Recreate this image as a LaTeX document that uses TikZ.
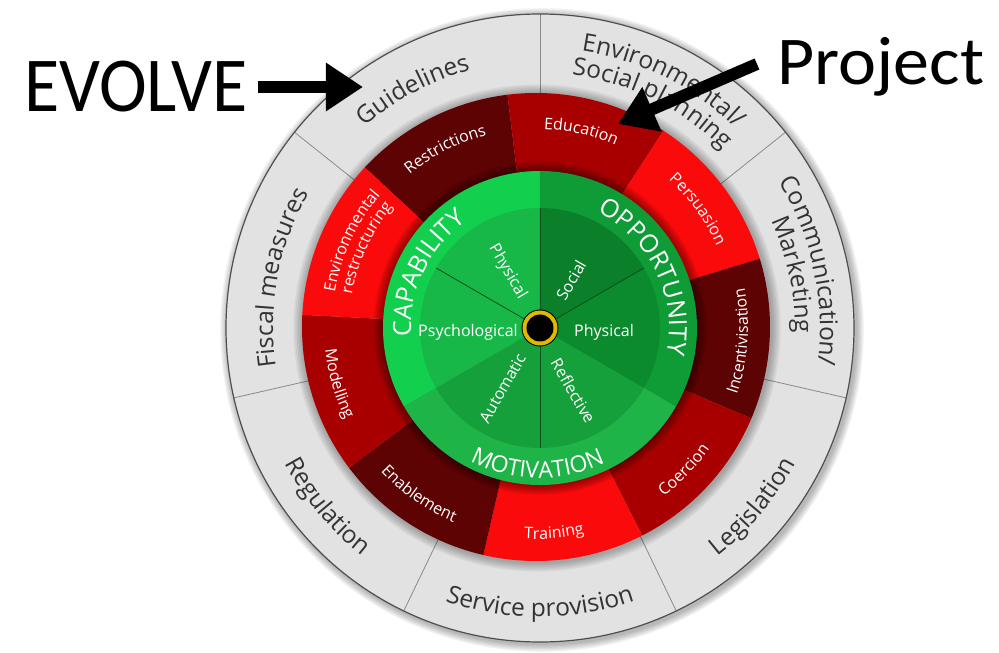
\documentclass[tikz,border=0pt]{standalone}
\usepackage{fontspec}
\usetikzlibrary{decorations.text,arrows.meta}
\newfontfamily\wheelfont{Open Sans}
\newfontfamily\notefont{Carlito}
\definecolor{ringgray}{HTML}{E2E2E2}
\definecolor{ringedge}{HTML}{4E4E4E}
\definecolor{divgray}{HTML}{8A8A8A}
\definecolor{gtext}{HTML}{333333}
\definecolor{rmaroon}{HTML}{5E0303}
\definecolor{rdark}{HTML}{A80000}
\definecolor{rbright}{HTML}{FA0A0A}
\definecolor{capout}{HTML}{12CF4E}
\definecolor{capin}{HTML}{17B848}
\definecolor{oppout}{HTML}{0F9B36}
\definecolor{oppin}{HTML}{0C8A2E}
\definecolor{motout}{HTML}{1EB447}
\definecolor{motin}{HTML}{16A03C}
\definecolor{gline}{HTML}{0A4F1A}
\definecolor{yring}{HTML}{E0B800}
\definecolor{ydark}{HTML}{5A4A00}
\newcommand\annsec[5]{\fill[#1] (#4:#2) arc[start angle=#4,end angle=#5,radius=#2] -- (#5:#3) arc[start angle=#5,end angle=#4,radius=#3] -- cycle;}
\newcommand\arctext[5]{\path[decorate,decoration={text along path,text align=center,text={|#4|#5}}] (#2:#1) arc[start angle=#2,end angle=#3,radius=#1];}
\newcommand\graytxt{\wheelfont\fontsize{24.5}{29}\selectfont\color{gtext}}
\newcommand\redtxt{\wheelfont\fontsize{16}{19}\selectfont\color{white}}
\newcommand\greentxt{\wheelfont\fontsize{25}{30}\selectfont\color{white}}
\newcommand\greentxtb{\wheelfont\fontsize{23}{28}\selectfont\color{white}}
\tikzset{
  inlab/.style={font=\wheelfont\fontsize{16}{19}\selectfont, text=white, inner sep=0pt},
  notelab/.style={font=\notefont\fontsize{72}{80}\selectfont, text=black, inner sep=0pt},
  bigarrow/.style={line width=12pt, -{Triangle[length=37pt,width=46pt]}},
  graydiv/.style={divgray, line width=0.8pt},
  greendiv/.style={gline, line width=0.8pt}
}
\begin{document}
\begin{tikzpicture}
\useasboundingbox (-540pt,-325pt) rectangle (459pt,328pt);
\fill[white] (-540pt,-325pt) rectangle (459pt,328pt);
% outer shadow
\foreach \k in {1,...,6}{\fill[black,opacity=0.05] (2pt,-2pt) circle (314pt+\k*1.3pt);}
% gray ring
\fill[ringgray] (0pt,0pt) circle (314pt);
\foreach \a in {90,38.57,-12.86,-64.29,-115.71,-167.14,141.43}{\draw[graydiv] (\a:230pt) -- (\a:314pt);}
\draw[ringedge, line width=1.2pt] (0pt,0pt) circle (314pt);
% shadow of red ring on gray
\foreach \k in {1,...,6}{\fill[black,opacity=0.05] (-3pt,0pt) circle (234pt+\k*1.6pt);}
% gray texts
\arctext{267pt}{148}{88}{\graytxt}{Guidelines}
\arctext{267pt}{199}{139}{\graytxt}{Fiscal measures}
\arctext{280pt}{93.5}{33.5}{\graytxt}{Environmental/}
\arctext{255pt}{93.5}{33.5}{\graytxt}{Social planning}
\arctext{280pt}{42}{-18}{\graytxt}{Communication/}
\arctext{255pt}{42}{-18}{\graytxt}{Marketing}
\arctext{289pt}{-70}{-10}{\graytxt}{Legislation}
\arctext{289pt}{-120}{-60}{\graytxt}{Service provision}
\arctext{289pt}{-170}{-110}{\graytxt}{Regulation}
% red ring
\begin{scope}[shift={(-4pt,1pt)}]
\annsec{rmaroon}{150pt}{234pt}{97}{137}
\annsec{rdark}{150pt}{234pt}{57}{97}
\annsec{rbright}{150pt}{234pt}{17}{57}
\annsec{rmaroon}{150pt}{234pt}{-23}{17}
\annsec{rdark}{150pt}{234pt}{-63}{-23}
\annsec{rbright}{150pt}{234pt}{-103}{-63}
\annsec{rmaroon}{150pt}{234pt}{-143}{-103}
\annsec{rdark}{150pt}{234pt}{-183}{-143}
\annsec{rbright}{150pt}{234pt}{137}{177}
\arctext{198pt}{142}{92}{\redtxt}{Restrictions}
\arctext{198pt}{102}{52}{\redtxt}{Education}
\arctext{198pt}{61}{11}{\redtxt}{Persuasion}
\arctext{204pt}{180}{130}{\redtxt}{Environmental}
\arctext{187pt}{180}{130}{\redtxt}{restructuring}
\arctext{212pt}{-29}{21}{\redtxt}{Incentivisation}
\arctext{212pt}{-69}{-19}{\redtxt}{Coercion}
\arctext{212pt}{-110}{-60}{\redtxt}{Training}
\arctext{212pt}{-150}{-100}{\redtxt}{Enablement}
\arctext{212pt}{171}{221}{\redtxt}{Modelling}
\end{scope}
% shadow of green on red
\foreach \k in {1,...,6}{\fill[black,opacity=0.07] (0pt,0pt) circle (157pt+\k*1.6pt);}
% green outer ring
\fill[capout] (0pt,0pt) -- (90:157pt) arc[start angle=90,end angle=210,radius=157pt] -- cycle;
\fill[oppout] (0pt,0pt) -- (-30:157pt) arc[start angle=-30,end angle=90,radius=157pt] -- cycle;
\fill[motout] (0pt,0pt) -- (210:157pt) arc[start angle=210,end angle=330,radius=157pt] -- cycle;
% green inner segments
\fill[capin] (0pt,0pt) -- (90:120pt) arc[start angle=90,end angle=210,radius=120pt] -- cycle;
\fill[oppin] (0pt,0pt) -- (-30:120pt) arc[start angle=-30,end angle=30,radius=120pt] -- cycle;
\fill[oppin!92!black] (0pt,0pt) -- (30:120pt) arc[start angle=30,end angle=90,radius=120pt] -- cycle;
\fill[motin] (0pt,0pt) -- (210:120pt) arc[start angle=210,end angle=330,radius=120pt] -- cycle;
\foreach \a in {90,150,30,270}{\draw[greendiv] (0pt,0pt) -- (\a:120pt);}
% green ring texts
\arctext{129pt}{194}{114}{\greentxt}{CAPABILITY}
\arctext{129pt}{71}{-19}{\greentxt}{OPPORTUNITY}
\arctext{150pt}{-131}{-51}{\greentxtb}{MOTIVATION}
% inner labels
\node[inlab] (psy) at (-72pt,-4pt) {Psychological};
\node[inlab] (phopp) at (64pt,-4pt) {Physical};
\node[inlab, rotate=-60] (phcap) at (120:65pt) {Physical};
\node[inlab, rotate=60] (soc) at (57:57pt) {Social};
\node[inlab, rotate=60] (aut) at (238:71pt) {Automatic};
\node[inlab, rotate=-60] (refl) at (298:71pt) {Reflective};
% centre
\fill[black] (0pt,0pt) circle (18.5pt);
\fill[yring] (0pt,0pt) circle (17.5pt);
\fill[black] (0pt,0pt) circle (13.5pt);
% annotations
\node[notelab, anchor=base] (evolve) at (-404pt,216pt) {\scalebox{1}[1.08]{EVOLVE}};
\node[notelab, anchor=base] (project) at (341pt,243pt) {\scalebox{1}[0.95]{Project}};
\coordinate (evtail) at (-282pt,241pt);
\coordinate (evtip) at (-177pt,241pt);
\coordinate (prtail) at (217pt,264pt);
\coordinate (prtip) at (78pt,204pt);
\draw[bigarrow] (evtail) -- (evtip);
\draw[bigarrow] (prtail) -- (prtip);
\end{tikzpicture}
\end{document}
